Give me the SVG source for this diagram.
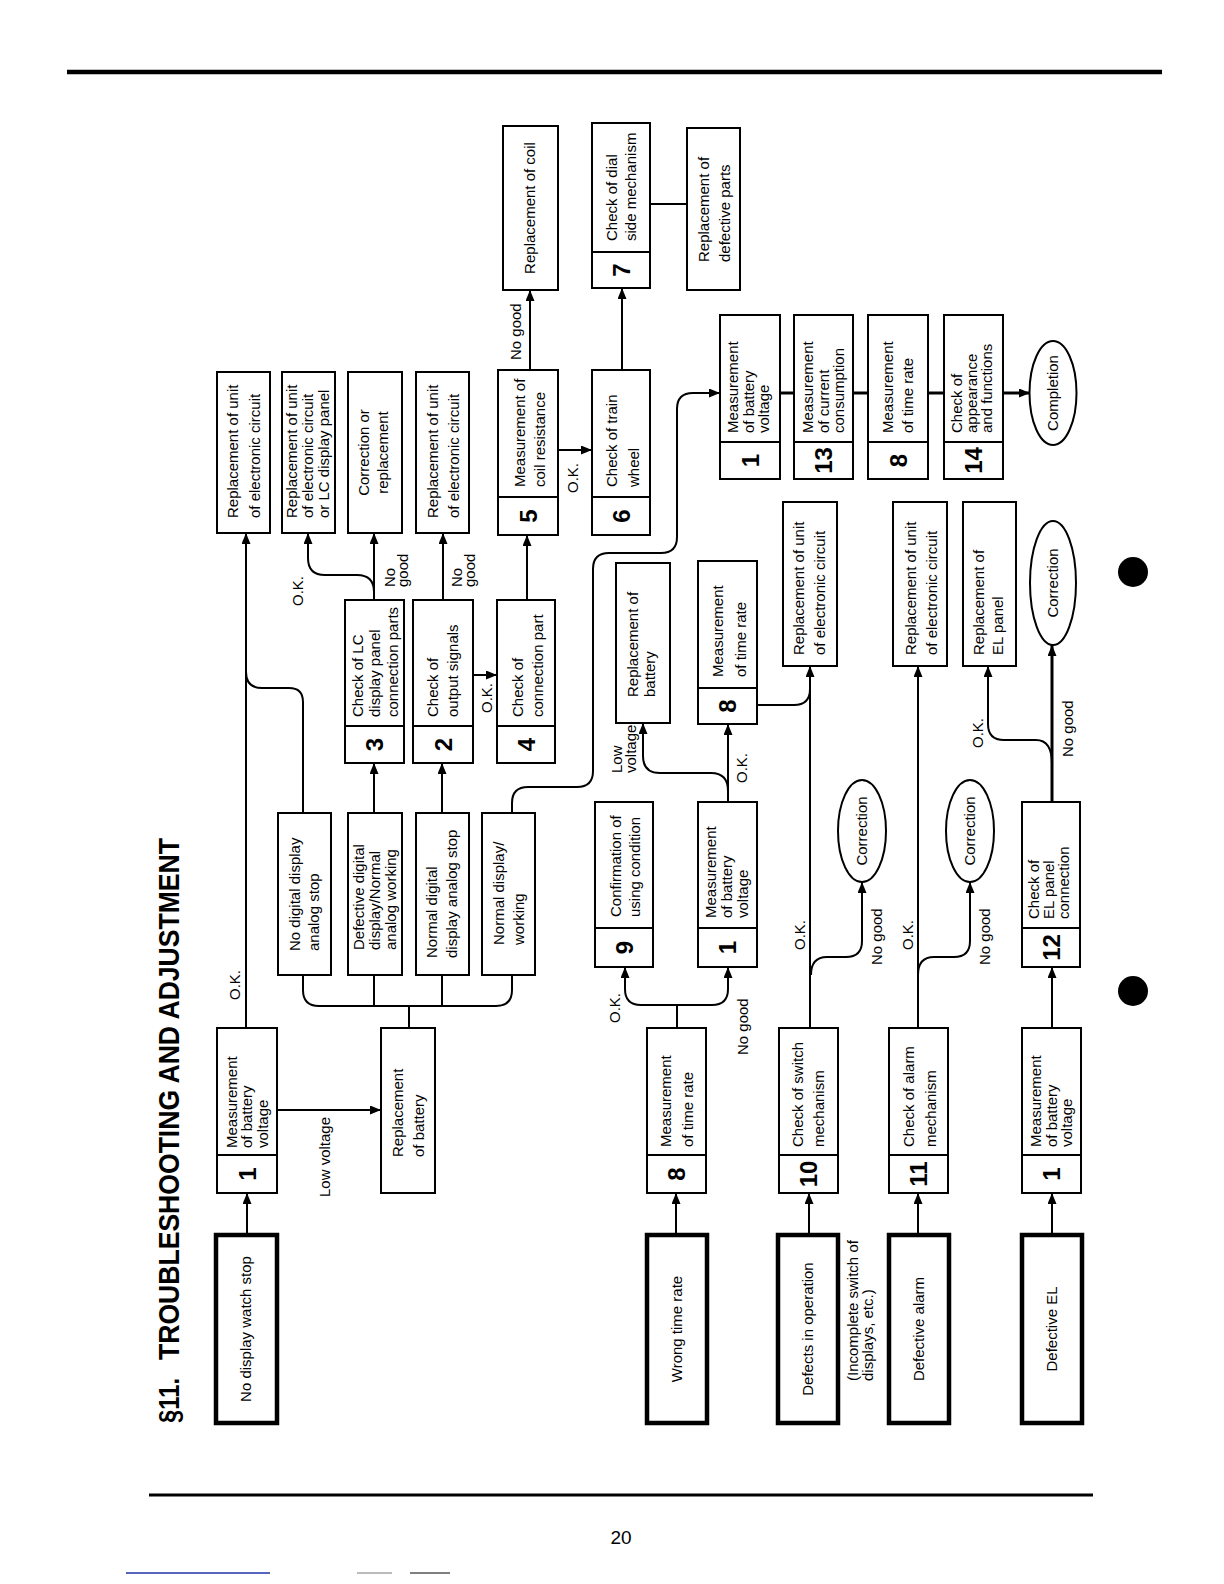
<svg xmlns="http://www.w3.org/2000/svg" width="1224" height="1584" viewBox="0 0 1224 1584">
<style>
.box{fill:#fff;stroke:#000;stroke-width:2}
.start{fill:#fff;stroke:#000;stroke-width:4.5}
.div{stroke:#000;stroke-width:2}
.c{fill:none;stroke:#000;stroke-width:2}
.ca{fill:none;stroke:#000;stroke-width:2;marker-end:url(#ah)}
.t{font-family:"Liberation Sans",Arial,Helvetica,sans-serif;font-size:15px;fill:#000}
.m{text-anchor:middle}
.num{font-family:"Liberation Sans",Arial,Helvetica,sans-serif;font-size:24px;font-weight:bold;text-anchor:middle;fill:#000}
.title{font-family:"Liberation Sans",Arial,Helvetica,sans-serif;font-size:30px;font-weight:bold;fill:#000}
</style>
<defs>
<marker id="ah" markerWidth="11" markerHeight="9" refX="11" refY="4.5" orient="auto" markerUnits="userSpaceOnUse"><path d="M0,0 L11,4.5 L0,9 Z" fill="#000"/></marker>
</defs>
<rect width="1224" height="1584" fill="#fff"/>
<g id="page">
<line x1="67" y1="72" x2="1162" y2="72" stroke="#000" stroke-width="4.5"/>
<line x1="149" y1="1495" x2="1093" y2="1495" stroke="#000" stroke-width="3"/>
<text x="621" y="1544" class="t m" style="font-size:19px">20</text>
<circle cx="1133" cy="572" r="15" fill="#000"/>
<circle cx="1133" cy="991" r="15" fill="#000"/>
<line x1="126" y1="1573" x2="270" y2="1573" stroke="#2233aa" stroke-width="1.5"/>
<line x1="357" y1="1573" x2="392" y2="1573" stroke="#777" stroke-width="1"/>
<line x1="410" y1="1573" x2="450" y2="1573" stroke="#555" stroke-width="1.5"/>
</g>
<g id="diagram" transform="translate(0,1584) rotate(-90)">
<g id="title">
<text class="title" x="161" y="179" textLength="45" lengthAdjust="spacingAndGlyphs">§11.</text>
<text class="title" x="224" y="179" textLength="522" lengthAdjust="spacingAndGlyphs">TROUBLESHOOTING AND ADJUSTMENT</text>
</g>

<g id="start-no-display"><rect class="start" x="161" y="216" width="188" height="61"/><text class="t m" x="255" y="251">No display watch stop</text></g>
<g id="start-wrong-rate"><rect class="start" x="161" y="647" width="188" height="60"/><text class="t m" x="255" y="682">Wrong time rate</text></g>
<g id="start-defects"><rect class="start" x="161" y="778" width="188" height="60"/><text class="t m" x="255" y="813">Defects in operation</text></g>
<g id="note-defects"><text class="t"><tspan x="203" y="858">(Incomplete switch of</tspan><tspan x="203" y="873">displays, etc.)</tspan></text></g>
<g id="start-alarm"><rect class="start" x="161" y="889" width="188" height="60"/><text class="t m" x="255" y="924">Defective alarm</text></g>
<g id="start-el"><rect class="start" x="161" y="1022" width="188" height="60"/><text class="t m" x="255" y="1057">Defective EL</text></g>

<g id="n1a"><rect class="box" x="391" y="217" width="165" height="60"/><line class="div" x1="429" y1="217" x2="429" y2="277"/><text class="num" x="410" y="255.5">1</text><text class="t"><tspan x="436" y="237">Measurement</tspan><tspan x="436" y="252">of battery</tspan><tspan x="436" y="268">voltage</tspan></text></g>
<g id="n8a"><rect class="box" x="391" y="647" width="165" height="59"/><line class="div" x1="429" y1="647" x2="429" y2="706"/><text class="num" x="410" y="685">8</text><text class="t"><tspan x="437" y="671">Measurement</tspan><tspan x="437" y="693">of time rate</tspan></text></g>
<g id="n10"><rect class="box" x="391" y="779" width="165" height="59"/><line class="div" x1="429" y1="779" x2="429" y2="838"/><text class="num" x="410" y="817">10</text><text class="t"><tspan x="437" y="803">Check of switch</tspan><tspan x="437" y="824">mechanism</tspan></text></g>
<g id="n11"><rect class="box" x="391" y="889" width="165" height="59"/><line class="div" x1="429" y1="889" x2="429" y2="948"/><text class="num" x="410" y="927">11</text><text class="t"><tspan x="437" y="914">Check of alarm</tspan><tspan x="437" y="936">mechanism</tspan></text></g>
<g id="n1e"><rect class="box" x="391" y="1022" width="165" height="59"/><line class="div" x1="429" y1="1022" x2="429" y2="1081"/><text class="num" x="410" y="1060">1</text><text class="t"><tspan x="437" y="1041">Measurement</tspan><tspan x="437" y="1057">of battery</tspan><tspan x="437" y="1072">voltage</tspan></text></g>

<g id="rep-battery-a"><rect class="box" x="391" y="381" width="165" height="54"/><text class="t"><tspan x="427" y="403">Replacement</tspan><tspan x="427" y="424">of battery</tspan></text></g>

<g id="cond1"><rect class="box" x="609" y="278" width="162" height="53"/><text class="t"><tspan x="633" y="300">No digital display</tspan><tspan x="633" y="319">analog stop</tspan></text></g>
<g id="cond2"><rect class="box" x="609" y="348" width="162" height="54"/><text class="t"><tspan x="634" y="364">Defective digital</tspan><tspan x="634" y="380">display/Normal</tspan><tspan x="634" y="396">analog working</tspan></text></g>
<g id="cond3"><rect class="box" x="609" y="416" width="162" height="53"/><text class="t"><tspan x="626" y="437">Normal digital</tspan><tspan x="626" y="457">display analog stop</tspan></text></g>
<g id="cond4"><rect class="box" x="609" y="482" width="162" height="53"/><text class="t"><tspan x="639" y="504">Normal display/</tspan><tspan x="639" y="524">working</tspan></text></g>

<g id="n9"><rect class="box" x="617" y="595" width="165" height="58"/><line class="div" x1="656" y1="595" x2="656" y2="653"/><text class="num" x="636.5" y="632.5">9</text><text class="t"><tspan x="667" y="621">Confirmation of</tspan><tspan x="667" y="640">using condition</tspan></text></g>
<g id="n1b"><rect class="box" x="617" y="698" width="165" height="59"/><line class="div" x1="656" y1="698" x2="656" y2="757"/><text class="num" x="636.5" y="736">1</text><text class="t"><tspan x="666" y="716">Measurement</tspan><tspan x="666" y="732">of battery</tspan><tspan x="666" y="748">voltage</tspan></text></g>
<g id="n12"><rect class="box" x="617" y="1022" width="165" height="58"/><line class="div" x1="656" y1="1022" x2="656" y2="1080"/><text class="num" x="636.5" y="1059.5">12</text><text class="t"><tspan x="665" y="1039">Check of</tspan><tspan x="665" y="1054">EL panel</tspan><tspan x="665" y="1069">connection</tspan></text></g>

<g id="n3"><rect class="box" x="821" y="345" width="163" height="59"/><line class="div" x1="858" y1="345" x2="858" y2="404"/><text class="num" x="839.5" y="383">3</text><text class="t"><tspan x="867" y="363">Check of LC</tspan><tspan x="867" y="380">display panel</tspan><tspan x="867" y="398">connection parts</tspan></text></g>
<g id="n2"><rect class="box" x="821" y="413" width="163" height="60"/><line class="div" x1="858" y1="413" x2="858" y2="473"/><text class="num" x="839.5" y="451.5">2</text><text class="t"><tspan x="867" y="438">Check of</tspan><tspan x="867" y="458">output signals</tspan></text></g>
<g id="n4"><rect class="box" x="821" y="497" width="163" height="58"/><line class="div" x1="858" y1="497" x2="858" y2="555"/><text class="num" x="839.5" y="534.5">4</text><text class="t"><tspan x="867" y="523">Check of</tspan><tspan x="867" y="543">connection part</tspan></text></g>

<g id="rep-battery-b"><rect class="box" x="861" y="616" width="160" height="54"/><text class="t"><tspan x="887" y="638">Replacement of</tspan><tspan x="887" y="655">battery</tspan></text></g>
<g id="n8b"><rect class="box" x="860" y="698" width="163" height="59"/><line class="div" x1="896" y1="698" x2="896" y2="757"/><text class="num" x="878" y="736">8</text><text class="t"><tspan x="907" y="723">Measurement</tspan><tspan x="907" y="746">of time rate</tspan></text></g>

<g id="rep-unit-10"><rect class="box" x="918" y="783" width="164" height="54"/><text class="t"><tspan x="929" y="804">Replacement of unit</tspan><tspan x="929" y="825">of electronic circuit</tspan></text></g>
<g id="rep-unit-11"><rect class="box" x="918" y="893" width="164" height="54"/><text class="t"><tspan x="929" y="916">Replacement of unit</tspan><tspan x="929" y="937">of electronic circuit</tspan></text></g>
<g id="rep-el"><rect class="box" x="918" y="963" width="164" height="53"/><text class="t"><tspan x="929" y="984">Replacement of</tspan><tspan x="929" y="1003">EL panel</tspan></text></g>

<g id="corr1"><ellipse class="box" cx="753" cy="862" rx="51" ry="24"/><text class="t m" x="753" y="867">Correction</text></g>
<g id="corr2"><ellipse class="box" cx="753" cy="970" rx="51" ry="24"/><text class="t m" x="753" y="975">Correction</text></g>
<g id="corr3"><ellipse class="box" cx="1001" cy="1053" rx="62" ry="23"/><text class="t m" x="1001" y="1058">Correction</text></g>

<g id="rep-unit-1"><rect class="box" x="1051" y="217" width="161" height="53"/><text class="t"><tspan x="1066" y="238">Replacement of unit</tspan><tspan x="1066" y="260">of electronic circuit</tspan></text></g>
<g id="rep-unit-3"><rect class="box" x="1051" y="282" width="161" height="53"/><text class="t"><tspan x="1066" y="297">Replacement of unit</tspan><tspan x="1066" y="313">of electronic circuit</tspan><tspan x="1066" y="329">or LC display panel</tspan></text></g>
<g id="corr-repl"><rect class="box" x="1051" y="348" width="161" height="54"/><text class="t m"><tspan x="1131.5" y="369">Correction or</tspan><tspan x="1131.5" y="388">replacement</tspan></text></g>
<g id="rep-unit-2"><rect class="box" x="1051" y="416" width="161" height="53"/><text class="t"><tspan x="1066" y="438">Replacement of unit</tspan><tspan x="1066" y="459">of electronic circuit</tspan></text></g>

<g id="n5"><rect class="box" x="1049" y="498" width="165" height="60"/><line class="div" x1="1087" y1="498" x2="1087" y2="558"/><text class="num" x="1068" y="536.5">5</text><text class="t"><tspan x="1097" y="525">Measurement of</tspan><tspan x="1097" y="545">coil resistance</tspan></text></g>
<g id="n6"><rect class="box" x="1049" y="592" width="165" height="58"/><line class="div" x1="1087" y1="592" x2="1087" y2="650"/><text class="num" x="1068" y="629.5">6</text><text class="t"><tspan x="1097" y="617">Check of train</tspan><tspan x="1097" y="639">wheel</tspan></text></g>
<g id="rep-coil"><rect class="box" x="1294" y="503" width="164" height="55"/><text class="t m" x="1376" y="535">Replacement of coil</text></g>
<g id="n7"><rect class="box" x="1296" y="592" width="165" height="58"/><line class="div" x1="1332" y1="592" x2="1332" y2="650"/><text class="num" x="1314" y="629.5">7</text><text class="t"><tspan x="1343" y="617">Check of dial</tspan><tspan x="1343" y="636">side mechanism</tspan></text></g>
<g id="rep-parts"><rect class="box" x="1294" y="687" width="162" height="53"/><text class="t"><tspan x="1322" y="709">Replacement of</tspan><tspan x="1322" y="730">defective parts</tspan></text></g>

<g id="n1c"><rect class="box" x="1105" y="720" width="164" height="60"/><line class="div" x1="1142" y1="720" x2="1142" y2="780"/><text class="num" x="1123.5" y="758.5">1</text><text class="t"><tspan x="1151" y="738">Measurement</tspan><tspan x="1151" y="754">of battery</tspan><tspan x="1151" y="769">voltage</tspan></text></g>
<g id="n13"><rect class="box" x="1105" y="794" width="164" height="59"/><line class="div" x1="1142" y1="794" x2="1142" y2="853"/><text class="num" x="1123.5" y="832">13</text><text class="t"><tspan x="1151" y="813">Measurement</tspan><tspan x="1151" y="829">of current</tspan><tspan x="1151" y="844">consumption</tspan></text></g>
<g id="n8c"><rect class="box" x="1105" y="868" width="164" height="60"/><line class="div" x1="1142" y1="868" x2="1142" y2="928"/><text class="num" x="1123.5" y="906.5">8</text><text class="t"><tspan x="1151" y="893">Measurement</tspan><tspan x="1151" y="913">of time rate</tspan></text></g>
<g id="n14"><rect class="box" x="1105" y="944" width="164" height="59"/><line class="div" x1="1142" y1="944" x2="1142" y2="1003"/><text class="num" x="1123.5" y="982">14</text><text class="t"><tspan x="1151" y="962">Check of</tspan><tspan x="1151" y="977">appearance</tspan><tspan x="1151" y="992">and functions</tspan></text></g>
<g id="completion"><ellipse class="box" cx="1191" cy="1053" rx="52" ry="23.5"/><text class="t m" x="1191" y="1058">Completion</text></g>

<g id="connectors">
<path class="ca" d="M349,247 L391,247"/>
<path class="ca" d="M474,277 L474,381"/>
<path class="ca" d="M556,246 L1051,246"/>
<path class="c" d="M771,303 L882,303 Q896,303 896,289 L896,262 Q896,246 912,246"/>
<path class="c" d="M609,303 L594,303 Q578,303 578,319 L578,496 Q578,512 594,512 L609,512 M578,374 L609,374 M578,442 L609,442 M556,409 L578,409"/>
<path class="ca" d="M771,374 L821,374"/>
<path class="ca" d="M771,442 L821,442"/>
<path class="ca" d="M984,374 L1051,374"/>
<path class="ca" d="M992,374 Q1009,374 1009,357 L1009,325 Q1009,308 1026,308 L1051,308"/>
<path class="ca" d="M984,443 L1051,443"/>
<path class="ca" d="M909,473 L909,497"/>
<path class="ca" d="M984,527 L1049,527"/>
<path class="ca" d="M1214,530 L1294,530"/>
<path class="ca" d="M1134,558 L1134,592"/>
<path class="ca" d="M1214,622 L1296,622"/>
<path class="c" d="M1380,650 L1380,687"/>
<path class="ca" d="M771,512 L781,512 Q797,512 797,528 L797,577 Q797,593 813,593 L1015,593 Q1031,593 1031,609 L1031,661 Q1031,677 1047,677 L1175,677 Q1191,677 1191,693 L1191,720"/>
<path class="c" d="M1191,780 L1191,794" style="stroke-width:3"/>
<path class="c" d="M1191,853 L1191,868" style="stroke-width:3"/>
<path class="c" d="M1191,928 L1191,944" style="stroke-width:3"/>
<path class="ca" d="M1191,1003 L1191,1030" style="stroke-width:3"/>
<path class="ca" d="M349,676 L391,676"/>
<path class="c" d="M556,677 L579,677"/>
<path class="ca" d="M579,677 L579,641 Q579,625 595,625 L617,625"/>
<path class="ca" d="M579,677 L579,712 Q579,728 595,728 L617,728"/>
<path class="ca" d="M782,728 L860,728"/>
<path class="ca" d="M793,728 Q811,728 811,711 L811,660 Q811,643 828,643 L861,643"/>
<path class="c" d="M879,757 L879,794 Q879,810 895,810"/>
<path class="ca" d="M349,809 L391,809"/>
<path class="ca" d="M556,810 L918,810"/>
<path class="ca" d="M609,811 Q627,811 627,827 L627,846 Q627,862 643,862 L702,862"/>
<path class="ca" d="M349,918 L391,918"/>
<path class="ca" d="M556,918 L918,918"/>
<path class="ca" d="M609,918 Q627,918 627,934 L627,954 Q627,970 643,970 L702,970"/>
<path class="ca" d="M349,1052 L391,1052"/>
<path class="ca" d="M556,1052 L617,1052"/>
<path class="ca" d="M782,1052 L939,1052" style="stroke-width:3"/>
<path class="ca" d="M820,1052 Q844,1052 844,1036 L844,1004 Q844,988 860,988 L918,988"/>
</g>

<g id="labels" class="t">
<text class="t" x="584" y="240">O.K.</text>
<text class="t" x="387" y="330">Low voltage</text>
<text class="t" x="978" y="303">O.K.</text>
<text class="t"><tspan x="997" y="395">No</tspan><tspan x="997" y="408">good</tspan></text>
<text class="t"><tspan x="997" y="462">No</tspan><tspan x="997" y="475">good</tspan></text>
<text class="t" x="871" y="492">O.K.</text>
<text class="t" x="1224" y="521">No good</text>
<text class="t" x="1091" y="578">O.K.</text>
<text class="t" x="561" y="620">O.K.</text>
<text class="t" x="529" y="748">No good</text>
<text class="t"><tspan x="811" y="622">Low</tspan><tspan x="811" y="636">voltage</tspan></text>
<text class="t" x="801" y="747">O.K.</text>
<text class="t" x="634" y="805">O.K.</text>
<text class="t" x="619" y="882">No good</text>
<text class="t" x="634" y="913">O.K.</text>
<text class="t" x="619" y="990">No good</text>
<text class="t" x="827" y="1073">No good</text>
<text class="t" x="836" y="983">O.K.</text>
</g>
</g>
</svg>
